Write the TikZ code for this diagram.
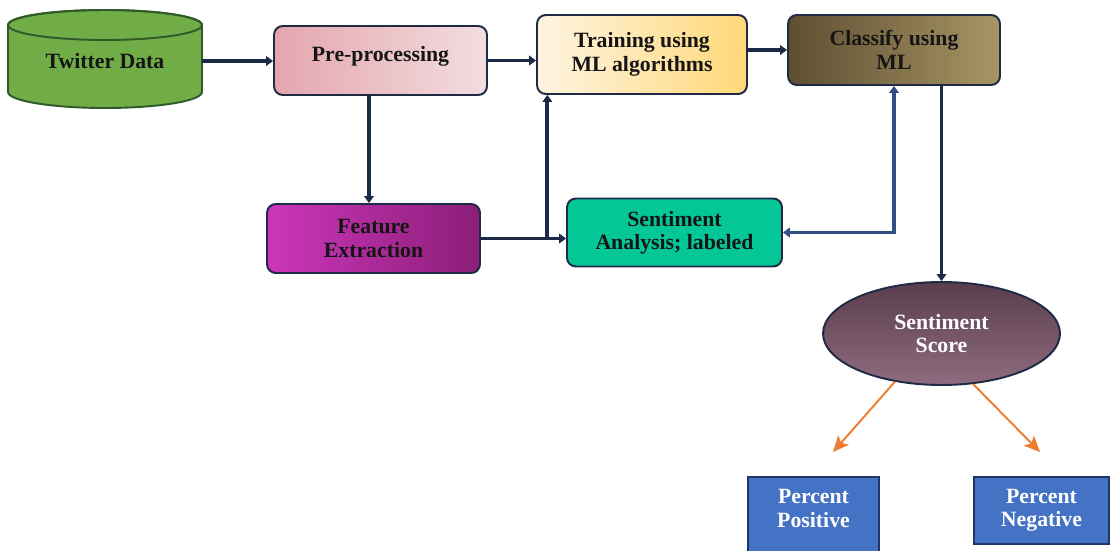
\documentclass[tikz,border=0pt]{standalone}
\usepackage{fontspec}
\setmainfont{Liberation Serif}
\usetikzlibrary{arrows.meta,shapes.geometric,calc}
\definecolor{navy}{HTML}{1B2A47}
\definecolor{navyb}{HTML}{2F4F85}
\definecolor{bordc}{HTML}{1F2A44}
\definecolor{cylg}{HTML}{70AD47}
\definecolor{cylb}{HTML}{31592A}
\definecolor{preA}{HTML}{E3A6AD}
\definecolor{preB}{HTML}{F3DDE0}
\definecolor{trA}{HTML}{FEF4E2}
\definecolor{trB}{HTML}{FFD878}
\definecolor{clA}{HTML}{5E4E31}
\definecolor{clB}{HTML}{A89565}
\definecolor{feA}{HTML}{CC36BA}
\definecolor{feB}{HTML}{8A1E78}
\definecolor{saC}{HTML}{03C797}
\definecolor{scA}{HTML}{5A3D4D}
\definecolor{scB}{HTML}{8F6C7F}
\definecolor{blueC}{HTML}{4472C4}
\definecolor{blueB}{HTML}{1F3864}
\definecolor{orangeC}{HTML}{ED7D31}
\definecolor{txt}{HTML}{151515}
\begin{document}
\begin{tikzpicture}[x=0.02cm,y=0.02cm,
  lbl/.style={font=\fontsize{12.4}{13.3}\selectfont\bfseries, align=center},
  rbox/.style={lbl, draw=bordc, line width=1.1pt, rounded corners=5pt, text=txt, inner sep=2pt},
  sqbox/.style={lbl, draw=blueB, line width=1.1pt, fill=blueC, text=white, inner sep=2pt},
  conn/.style={draw=navy, line width=2.2pt, -{Triangle[length=4pt,width=5.5pt]}},
  conn2/.style={draw=navyb, line width=2.2pt, {Triangle[length=4pt,width=5.5pt]}-{Triangle[length=4pt,width=5.5pt]}},
  oarrow/.style={draw=orangeC, line width=1.1pt, -{Stealth[length=9pt,width=8pt,inset=2pt]}}
]
\useasboundingbox[fill=white] (0,0) rectangle (1110,-551);

% cylinder
\draw[draw=cylb, line width=1.1pt, fill=cylg] (8,-25) -- (8,-92)
  arc[start angle=180, end angle=360, x radius=97, y radius=16] -- (202,-25)
  arc[start angle=0, end angle=180, x radius=97, y radius=15] -- cycle;
\draw[draw=cylb, line width=1.1pt] (105,-25) ellipse[x radius=97, y radius=15];
\node[lbl, text=txt, minimum width=3.88cm, minimum height=1.96cm] (tw) at (105,-61) {Twitter Data};

\node[rbox, left color=preA, right color=preB, minimum width=4.26cm, minimum height=1.38cm, text depth=0.26cm] (pre) at (380.5,-60.5) {Pre-processing};
\node[rbox, left color=trA, right color=trB, minimum width=4.20cm, minimum height=1.58cm] (train) at (642,-54.5) {Training using\\ML algorithms};
\node[rbox, left color=clA, right color=clB, minimum width=4.24cm, minimum height=1.40cm] (cls) at (894,-50) {Classify using\\ML};
\node[rbox, left color=feA, right color=feB, minimum width=4.26cm, minimum height=1.38cm] (feat) at (373.5,-238.5) {Feature\\Extraction};
\node[rbox, fill=saC, minimum width=4.30cm, minimum height=1.36cm] (sa) at (674.5,-232.5) {Sentiment\\Analysis; labeled};
\node[ellipse, lbl, draw=bordc, line width=1.1pt, top color=scA, bottom color=scB, text=white, minimum width=4.74cm, minimum height=2.06cm, inner sep=0pt] (score) at (941.5,-333.5) {Sentiment\\Score};
\node[sqbox, minimum width=2.62cm, minimum height=1.76cm, text depth=0.5cm] (pos) at (813.5,-521) {Percent\\Positive};
\node[sqbox, minimum width=2.70cm, minimum height=1.34cm] (neg) at (1041.5,-510.5) {Percent\\Negative};

\coordinate (p1) at (833,-452);
\coordinate (p2) at (1040,-452);
\coordinate (v) at (369,0);

\draw[conn] (tw.east) -- (tw.east -| pre.west);
\draw[conn] (pre.east) -- (pre.east -| train.west);
\draw[conn] (cls.west -| train.east) -- (cls.west);
\draw[conn] (v |- pre.south) -- (v |- feat.north);
\draw[conn] (feat.east) -- (feat.east -| sa.west);
\path (feat.east) -- (feat.east -| sa.west) coordinate[pos=0.78] (j);
\draw[conn] (j) -- (j |- train.south);
\draw[conn2] (sa.east) -| (cls.south);
\draw[conn] (score.north |- cls.south) -- (score.north);
\draw[oarrow] (score.226) -- (p1);
\draw[oarrow] (score.-58) -- (p2);
\end{tikzpicture}
\end{document}
